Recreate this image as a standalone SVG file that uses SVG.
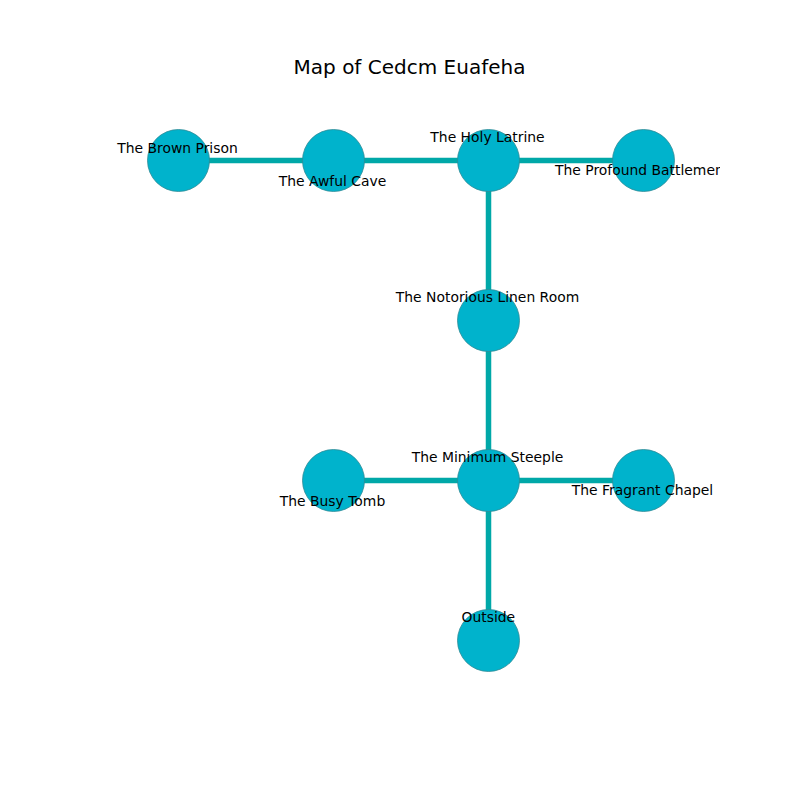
<svg xmlns="http://www.w3.org/2000/svg" width="800" height="800" viewBox="0 0 800 800">
<style>
.e{stroke:#00a8a8;stroke-width:5.5;fill:none}
.n{fill:#00b3cc;stroke:#2e8a96;stroke-width:0.8}
.l{font-family:"DejaVu Sans",sans-serif;font-size:13.9px;fill:#000;text-anchor:middle}
.t{font-family:"DejaVu Sans",sans-serif;font-size:20px;fill:#000;text-anchor:middle}
</style>
<defs><clipPath id="ax"><rect x="100" y="96" width="620" height="616"/></clipPath></defs>
<rect width="800" height="800" fill="#fff"/>
<text class="t" x="409.5" y="74">Map of Cedcm Euafeha</text>
<g id="connectors" clip-path="url(#ax)">
<line class="e" x1="178.5" y1="160.5" x2="333.5" y2="160.5"/>
<line class="e" x1="333.5" y1="160.5" x2="488.5" y2="160.5"/>
<line class="e" x1="488.5" y1="160.5" x2="643.5" y2="160.5"/>
<line class="e" x1="488.5" y1="160.5" x2="488.5" y2="320.5"/>
<line class="e" x1="488.5" y1="320.5" x2="488.5" y2="480.5"/>
<line class="e" x1="333.5" y1="480.5" x2="488.5" y2="480.5"/>
<line class="e" x1="488.5" y1="480.5" x2="643.5" y2="480.5"/>
<line class="e" x1="488.5" y1="480.5" x2="488.5" y2="640.5"/>
</g>
<g clip-path="url(#ax)">
<g id="brown-prison"><circle class="n" cx="178.5" cy="160.5" r="31"/></g>
<g id="awful-cave"><circle class="n" cx="333.5" cy="160.5" r="31"/></g>
<g id="holy-latrine"><circle class="n" cx="488.5" cy="160.5" r="31"/></g>
<g id="profound-battlement"><circle class="n" cx="643.5" cy="160.5" r="31"/></g>
<g id="notorious-linen-room"><circle class="n" cx="488.5" cy="320.5" r="31"/></g>
<g id="busy-tomb"><circle class="n" cx="333.5" cy="480.5" r="31"/></g>
<g id="minimum-steeple"><circle class="n" cx="488.5" cy="480.5" r="31"/></g>
<g id="fragrant-chapel"><circle class="n" cx="643.5" cy="480.5" r="31"/></g>
<g id="outside"><circle class="n" cx="488.5" cy="640.5" r="31"/></g>
<g id="labels">
<text class="l" x="177.5" y="153.3">The Brown Prison</text>
<text class="l" x="332.5" y="186">The Awful Cave</text>
<text class="l" x="487.5" y="142.3">The Holy Latrine</text>
<text class="l" x="555" y="175" style="text-anchor:start">The Profound Battlement</text>
<text class="l" x="487.5" y="302.3">The Notorious Linen Room</text>
<text class="l" x="487.5" y="462.3">The Minimum Steeple</text>
<text class="l" x="332.5" y="506">The Busy Tomb</text>
<text class="l" x="642.5" y="495">The Fragrant Chapel</text>
<text class="l" x="488.3" y="622.3">Outside</text>
</g>
</g>
</svg>
